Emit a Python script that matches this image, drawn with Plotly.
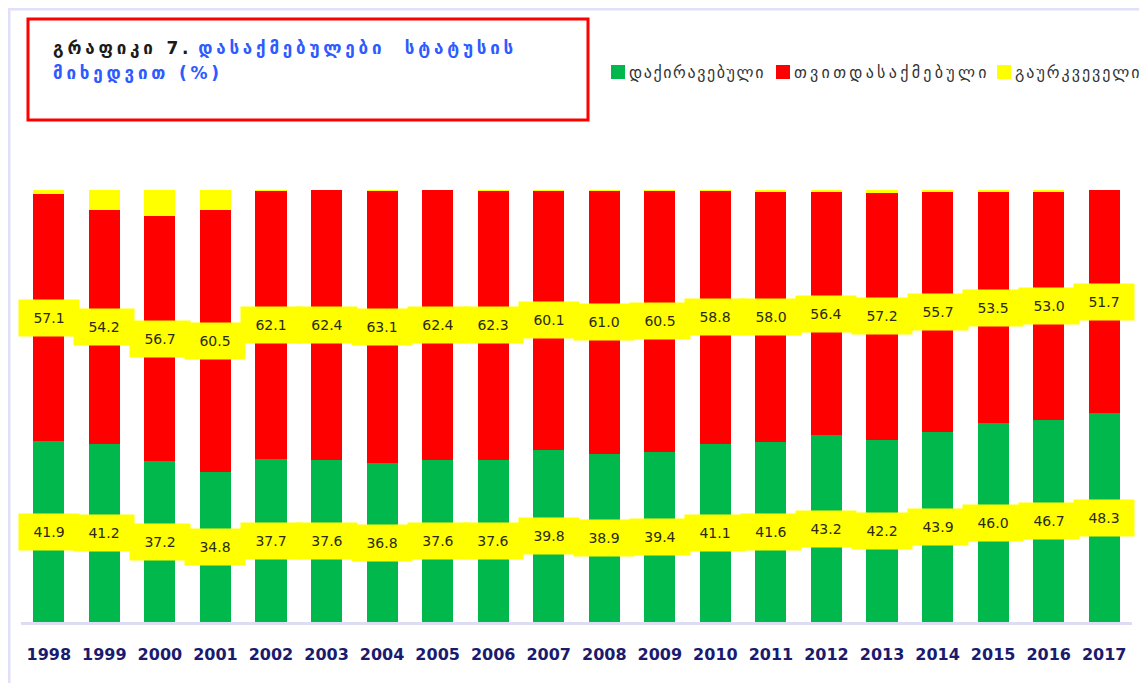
import plotly.graph_objects as go

years = list(range(1998, 2018))
hired = [41.9, 41.2, 37.2, 34.8, 37.7, 37.6, 36.8, 37.6, 37.6, 39.8,
         38.9, 39.4, 41.1, 41.6, 43.2, 42.2, 43.9, 46.0, 46.7, 48.3]
selfemp = [57.1, 54.2, 56.7, 60.5, 62.1, 62.4, 63.1, 62.4, 62.3, 60.1,
           61.0, 60.5, 58.8, 58.0, 56.4, 57.2, 55.7, 53.5, 53.0, 51.7]
other = [1.0, 4.6, 6.1, 4.7, 0.2, 0.0, 0.1, 0.0, 0.1, 0.1,
         0.1, 0.1, 0.1, 0.4, 0.4, 0.6, 0.4, 0.5, 0.3, 0.0]

names = ["დაქირავებული", "თვითდასაქმებული", "გაურკვეველი"]
colors = ["#00b84c", "#ff0000", "#ffff00"]

# page body has an 8px margin; work in screen pixels and convert
OFF = 8
W, H = 1147 - OFF, 683 - OFF
ML, MR, MT, MB = 21 - OFF, 15, 190 - OFF, 61
PW = W - ML - MR
PH = H - MT - MB


def px(x):
    return (x - OFF - ML) / PW


def py(y):
    return (H + OFF - MB - y) / PH


fig = go.Figure()
for vals, name, col in zip([hired, selfemp, other], names, colors):
    fig.add_trace(go.Bar(x=years, y=vals, marker_color=col, marker_line_width=0,
                         name=name, showlegend=False))

annos = []
for i, yr in enumerate(years):
    for yv, v in [(hired[i] / 2, hired[i]), (hired[i] + selfemp[i] / 2, selfemp[i])]:
        annos.append(dict(x=yr, y=yv, xref="x", yref="y", text=f"{v:.1f}",
                          showarrow=False, bgcolor="#ffff00", width=54, height=30,
                          borderpad=3, font=dict(family="DejaVu Sans", size=14, color="#2a2a10")))

title_font = dict(family="DejaVu Sans", size=17, color="#2e5bff", weight="bold")
annos.append(dict(
    xref="paper", yref="paper", x=px(51), y=py(48), xanchor="left", yanchor="middle",
    align="left", showarrow=False, font=title_font,
    text=("<span style='color:#1b1b1b;letter-spacing:3.8px'>გრაფიკი 7.</span> "
          "<span style='color:#2e5bff;letter-spacing:3.8px'>დასაქმებულები  სტატუსის</span>"),
))
annos.append(dict(
    xref="paper", yref="paper", x=px(51), y=py(73), xanchor="left", yanchor="middle",
    align="left", showarrow=False, font=title_font,
    text="<span style='color:#2e5bff;letter-spacing:3.8px'>მიხედვით (%)</span>",
))

shapes = [
    dict(type="rect", xref="paper", yref="paper", x0=px(28), x1=px(588),
         y0=py(19), y1=py(120), line=dict(color="#ff0000", width=3)),
    dict(type="line", xref="paper", yref="paper", x0=px(9), x1=px(9),
         y0=py(8), y1=py(H + OFF + 5), line=dict(color="#e0e0f8", width=3)),
    dict(type="line", xref="paper", yref="paper", x0=px(8), x1=px(W + OFF + 5),
         y0=py(9), y1=py(9), line=dict(color="#e0e0f8", width=3)),
]

# custom legend
leg_x = [611, 776, 997]
leg_sp = [1.6, 3.3, 2.0]
for lx, name, col, sp in zip(leg_x, names, colors, leg_sp):
    shapes.append(dict(type="rect", xref="paper", yref="paper", x0=px(lx), x1=px(lx + 14),
                       y0=py(65), y1=py(79), fillcolor=col, line=dict(width=0)))
    annos.append(dict(xref="paper", yref="paper", x=px(lx + 16), y=py(72),
                      xanchor="left", yanchor="middle", showarrow=False,
                      text=f"<span style='letter-spacing:{sp}px'>{name}</span>",
                      font=dict(family="DejaVu Sans", size=16, color="#333")))

fig.update_layout(
    width=W, height=H,
    margin=dict(l=ML, r=MR, t=MT, b=MB, autoexpand=False),
    barmode="stack", bargap=0.44,
    plot_bgcolor="white", paper_bgcolor="white",
    showlegend=False,
    xaxis=dict(range=[1997.5, 2017.5], tickmode="array", tickvals=years,
               ticktext=[str(y) for y in years], automargin=False, showline=True,
               linecolor="#dcdcf5", linewidth=3, ticks="outside", ticklen=16,
               tickcolor="rgba(0,0,0,0)", zeroline=False,
               tickfont=dict(family="DejaVu Sans", size=16, color="#1a1a6e", weight="bold"),
               showgrid=False),
    yaxis=dict(range=[0, 100], visible=False, showgrid=False, automargin=False),
    annotations=annos,
    shapes=shapes,
)

fig.write_html("out.html")
